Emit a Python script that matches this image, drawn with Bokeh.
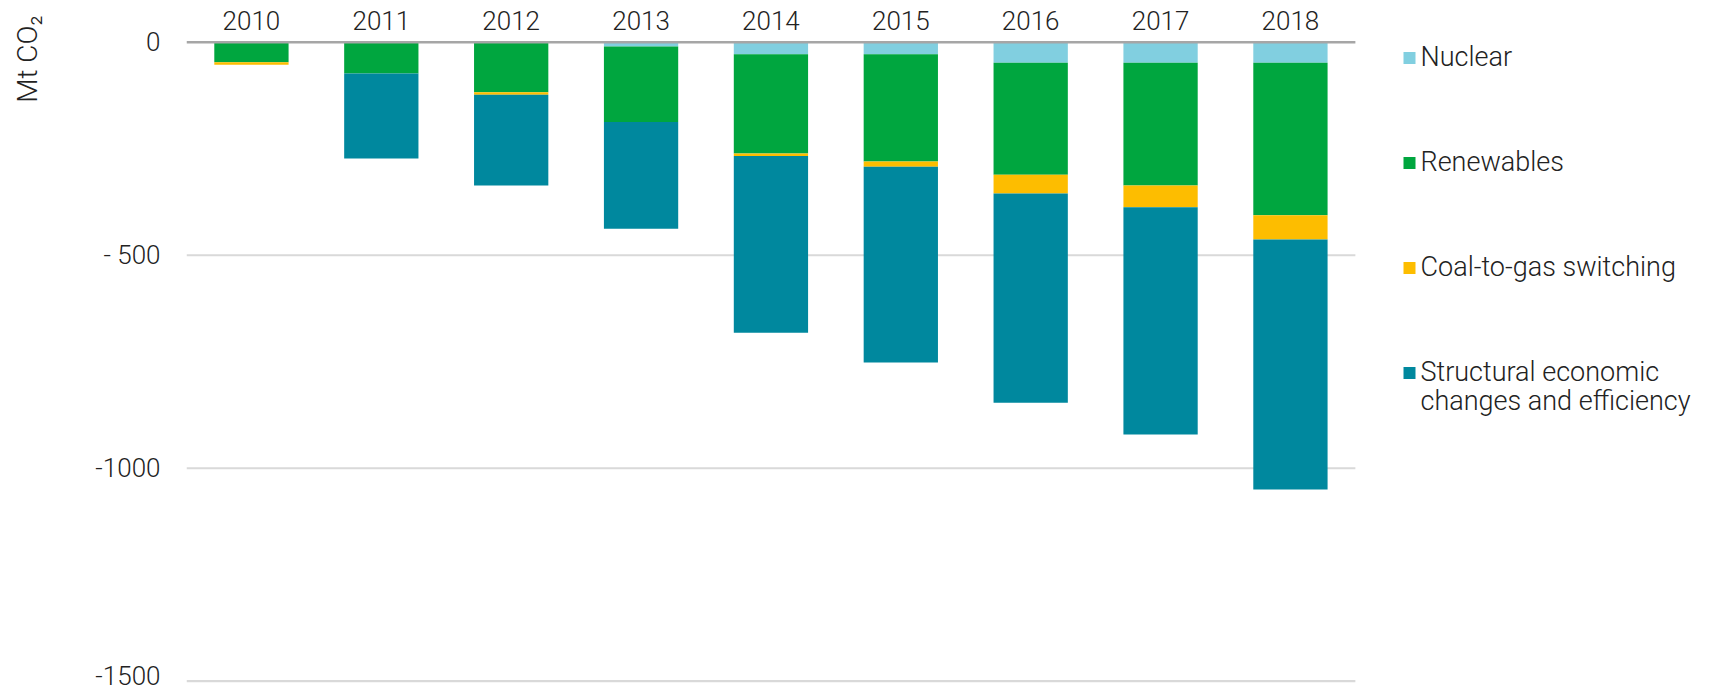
import math
from bokeh.plotting import figure
from bokeh.layouts import row
from bokeh.models import ColumnDataSource, Range1d, FixedTicker
from bokeh.core.properties import value
from bokeh.embed import file_html
from bokeh.resources import INLINE

# ---------------- data ----------------
years = ["2010", "2011", "2012", "2013", "2014", "2015", "2016", "2017", "2018"]
nuclear = [0, 0, 0, -10, -28, -28, -48, -48, -48]
renewables = [-47, -73, -117, -177, -233, -252, -263, -288, -358]
coal_to_gas = [-6, 0, -6, 0, -6, -12, -44, -51, -57]
structural = [0, -200, -213, -251, -415, -460, -491, -534, -587]
series_names = ["Nuclear", "Renewables", "Coal-to-gas switching",
                "Structural economic\nchanges and efficiency"]
y_ticks = [0, -500, -1000, -1500]
y_tick_labels = ["0", "- 500", "-1000", "-1500"]
y_title = "Mt CO\u2082"

# ---------------- style ----------------
colors = ["#81cfe0", "#00a63f", "#fdbd00", "#00889e"]
FONT = "Roboto Light, Roboto"
FS = "26px"
LFS = "27px"
TEXT = "#222222"

W, H = 1713, 690
TITLE_W = 60            # narrow strip holding the rotated unit label
LEFT = 186              # page x of the plotting frame's left edge
PX_PER_CAT = 129.875
PX_PER_UNIT = 0.42593
ZERO_Y = 41.8           # zero line, px from top

x_start = -0.5
x_end = x_start + (W - LEFT) / PX_PER_CAT
y_end = ZERO_Y / PX_PER_UNIT
y_start = y_end - H / PX_PER_UNIT


def fx(px):
    return x_start + (px - LEFT) / PX_PER_CAT


def fy(py):
    return (ZERO_Y - py) / PX_PER_UNIT


# ---------------- unit label strip ----------------
t = figure(width=TITLE_W, height=H, x_range=Range1d(0, TITLE_W), y_range=Range1d(-H, 0),
           output_backend="svg", toolbar_location=None, x_axis_location=None,
           y_axis_location=None, min_border=0, outline_line_color=None,
           background_fill_color="white", border_fill_color="white")
t.grid.visible = False
t.text(x=[27], y=[-15], text=[y_title], angle=math.pi / 2, text_align="right",
       text_baseline="middle", text_font=value(FONT), text_font_size="28px",
       text_color=TEXT)

# ---------------- main chart ----------------
idx = list(range(len(years)))
keys = ["nuclear", "renewables", "coal", "structural"]
src = ColumnDataSource(dict(x=idx, years=years, nuclear=nuclear, renewables=renewables,
                            coal=coal_to_gas, structural=structural))

p = figure(width=W - TITLE_W, height=H, x_range=Range1d(x_start, x_end),
           y_range=Range1d(y_start, y_end),
           output_backend="svg", toolbar_location=None, x_axis_location=None,
           min_border_left=LEFT - TITLE_W, min_border_right=0, min_border_top=0,
           min_border_bottom=0, outline_line_color=None,
           background_fill_color="white", border_fill_color="white")
p.grid.visible = False

n = len(years)
p.segment(x0=[-0.5] * (len(y_ticks) - 1), x1=[n - 0.5] * (len(y_ticks) - 1),
          y0=y_ticks[1:], y1=y_ticks[1:], line_color="#d9d9d9", line_width=2.2)

p.vbar_stack(keys, x="x", width=0.572, color=colors, line_color=None, source=src)

p.segment(x0=[-0.5], x1=[n - 0.5], y0=[0], y1=[0], line_color="#a6a6a6", line_width=2.6)

p.text(x=idx, y=[fy(20)] * n, text=years, text_align="center", text_baseline="middle",
       text_font=value(FONT), text_font_size=FS, text_color=TEXT)

ax = p.yaxis[0]
ax.ticker = FixedTicker(ticks=y_ticks)
ax.major_label_overrides = {tk: lb for tk, lb in zip(y_ticks, y_tick_labels)}
ax.axis_line_color = None
ax.major_tick_line_color = None
ax.minor_tick_line_color = None
ax.major_label_standoff = 20
ax.major_label_text_font = FONT
ax.major_label_text_font_size = FS
ax.major_label_text_color = TEXT

# legend (drawn manually, right of the bars)
sq_y = [57.5 + i * 105 for i in range(len(series_names))]
p.scatter(x=[fx(1409)] * len(series_names), y=[fy(v) for v in sq_y], marker="square",
          size=12, fill_color=colors, line_color=None)
lx, ly, lt = [], [], []
for i, name in enumerate(series_names):
    for j, line in enumerate(name.split("\n")):
        lx.append(fx(1420))
        ly.append(fy(sq_y[i] - 1 + j * 29))
        lt.append(line)
p.text(x=lx, y=ly, text=lt, text_align="left", text_baseline="middle",
       text_font=value(FONT), text_font_size=LFS, text_color=TEXT)

layout = row(t, p, spacing=0)
open("out.html", "w").write(file_html(layout, INLINE))
